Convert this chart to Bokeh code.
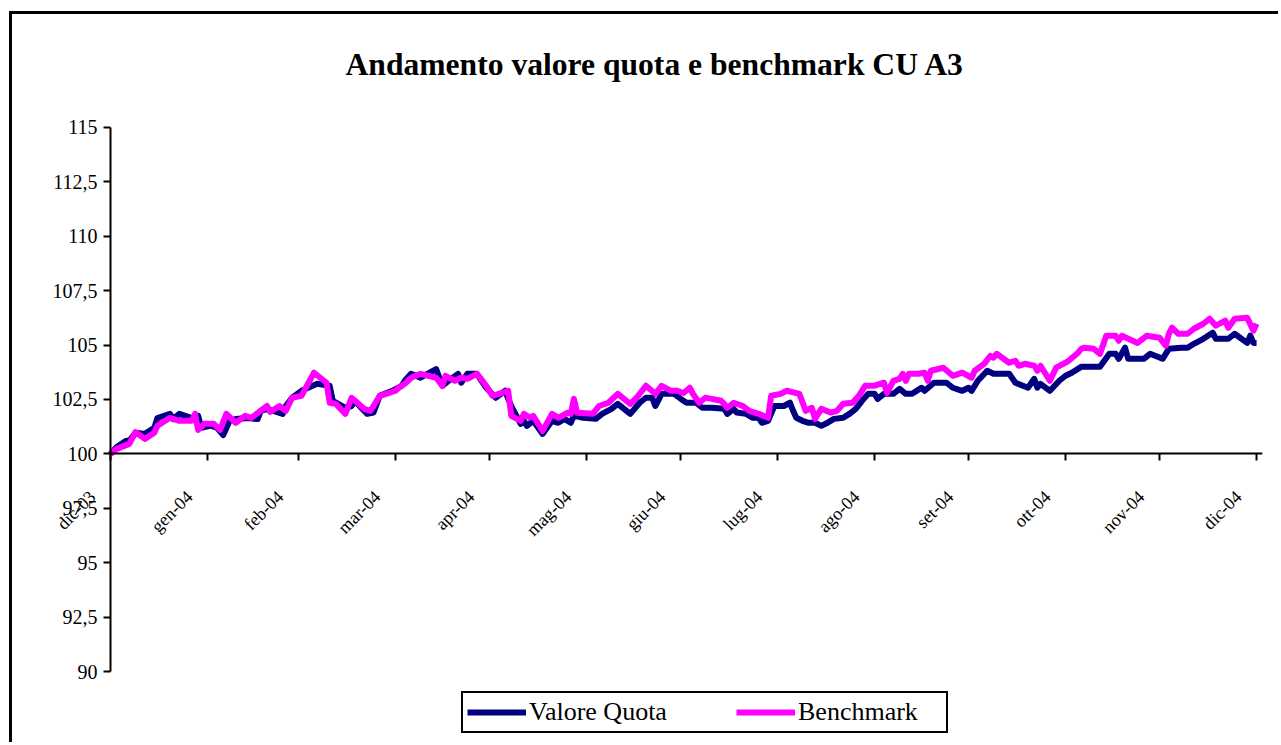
import math
import pandas as pd
from bokeh.plotting import figure
from bokeh.models import (Range1d, FixedTicker, Legend, LegendItem, ColumnDataSource,
                          LabelSet, Title)
from bokeh.embed import file_html
from bokeh.resources import INLINE
from bokeh.core.properties import value

# ---------------- data ----------------
START = "2003-12-31"

vq_days = [0, 2, 5, 6, 8, 11, 14, 15, 19, 20, 22, 26, 28, 29, 32, 34, 36, 38, 40, 44,
           47, 48, 50, 52, 55, 56, 58, 61, 66, 70, 71, 75, 77, 78, 82, 84, 86, 90, 93, 94,
           96, 99, 104, 106, 108, 111, 112, 114, 117, 120, 123, 126, 128, 131, 132, 133, 135, 138, 141, 143,
           145, 147, 148, 151, 155, 157, 160, 162, 166, 169, 171, 173, 174, 176, 180, 183, 184, 187, 189, 192,
           196, 197, 199, 200, 203, 205, 207, 208, 210, 212, 215, 217, 218, 219, 221, 223, 225, 227, 229, 231,
           234, 236, 238, 240, 242, 244, 245, 247, 250, 252, 254, 256, 259, 260, 263, 267, 269, 272, 274, 275,
           277, 280, 282, 287, 289, 293, 295, 296, 297, 300, 303, 305, 307, 310, 316, 319, 321, 322, 324, 325,
           330, 332, 336, 338, 342, 344, 346, 349, 352, 353, 357, 359, 363, 364, 365, 366]
vq_vals = [100.0, 100.32, 100.6, 100.6, 100.97, 100.92, 101.2, 101.65, 101.84, 101.6, 101.84, 101.65, 101.75, 101.2, 101.3, 101.2, 100.87, 101.5, 101.6, 101.65,
           101.6, 101.98, 102.07, 101.98, 101.84, 102.2, 102.58, 102.9, 103.22, 103.13, 102.44, 102.12, 102.2, 102.44, 101.84, 101.9, 102.67, 102.9, 103.13, 103.36,
           103.68, 103.5, 103.9, 103.13, 103.36, 103.68, 103.27, 103.68, 103.68, 103.04, 102.58, 102.9, 102.2, 101.38, 101.52, 101.29, 101.52, 100.92, 101.52, 101.43,
           101.61, 101.43, 101.75, 101.66, 101.61, 101.84, 102.07, 102.3, 101.84, 102.35, 102.58, 102.58, 102.2, 102.76, 102.76, 102.44, 102.35, 102.35, 102.12, 102.12,
           102.07, 101.84, 102.07, 101.9, 101.84, 101.66, 101.66, 101.43, 101.52, 102.2, 102.2, 102.35, 101.98, 101.66, 101.52, 101.43, 101.43, 101.29, 101.43, 101.61,
           101.66, 101.84, 102.07, 102.44, 102.76, 102.76, 102.53, 102.76, 102.76, 102.99, 102.76, 102.76, 103.04, 102.9, 103.27, 103.27, 103.04, 102.9, 103.04, 102.9,
           103.36, 103.82, 103.68, 103.68, 103.27, 103.04, 103.45, 103.04, 103.22, 102.9, 103.36, 103.59, 103.73, 104.0, 104.0, 104.6, 104.6, 104.37, 104.88, 104.37,
           104.37, 104.6, 104.37, 104.83, 104.88, 104.88, 105.06, 105.29, 105.57, 105.29, 105.29, 105.52, 105.1, 105.43, 105.1, 105.1]

bm_days = [0, 2, 6, 8, 11, 14, 15, 19, 22, 26, 27, 28, 30, 33, 35, 37, 40, 43, 45, 50,
           51, 54, 56, 58, 61, 65, 69, 70, 72, 75, 77, 81, 83, 84, 86, 89, 91, 92, 94, 96,
           99, 104, 106, 107, 110, 112, 114, 117, 118, 120, 122, 124, 127, 128, 131, 132, 134, 135, 138, 141,
           143, 146, 147, 148, 149, 154, 156, 159, 162, 166, 168, 171, 174, 176, 179, 181, 183, 185, 186, 188,
           190, 192, 195, 196, 197, 199, 202, 204, 207, 210, 211, 214, 216, 220, 222, 224, 225, 227, 230, 232,
           234, 237, 239, 241, 244, 245, 247, 248, 250, 252, 253, 254, 255, 258, 260, 261, 262, 266, 269, 272,
           275, 276, 279, 281, 282, 283, 287, 289, 290, 292, 295, 296, 297, 300, 302, 305, 306, 309, 310, 311,
           314, 316, 318, 321, 322, 323, 328, 331, 335, 337, 338, 339, 341, 344, 346, 349, 351, 353, 356, 357,
           359, 363, 365, 366]
bm_vals = [100.0, 100.23, 100.46, 101.0, 100.69, 100.97, 101.29, 101.66, 101.52, 101.52, 101.84, 101.1, 101.38, 101.38, 101.1, 101.84, 101.43, 101.75, 101.66, 102.2,
           101.93, 102.2, 101.98, 102.58, 102.67, 103.73, 103.27, 102.35, 102.3, 101.84, 102.58, 102.07, 101.98, 102.2, 102.67, 102.8, 102.9, 103.04, 103.22, 103.5,
           103.68, 103.5, 103.13, 103.59, 103.36, 103.5, 103.45, 103.68, 103.5, 103.13, 102.67, 102.76, 102.9, 101.75, 101.52, 101.84, 101.66, 101.75, 101.06, 101.84,
           101.66, 101.89, 101.84, 102.53, 101.89, 101.84, 102.2, 102.35, 102.76, 102.3, 102.58, 103.13, 102.76, 103.13, 102.9, 102.9, 102.8, 103.04, 102.76, 102.35,
           102.58, 102.53, 102.44, 102.3, 102.12, 102.35, 102.2, 101.98, 101.84, 101.66, 102.67, 102.76, 102.9, 102.76, 101.98, 102.12, 101.61, 102.07, 101.9, 101.98,
           102.3, 102.35, 102.67, 103.13, 103.13, 103.18, 103.27, 102.8, 103.36, 103.45, 103.68, 103.36, 103.68, 103.68, 103.73, 103.36, 103.82, 103.96, 103.59, 103.73,
           103.5, 103.82, 104.14, 104.51, 104.42, 104.6, 104.19, 104.28, 104.05, 104.14, 104.05, 103.82, 104.05, 103.36, 103.96, 104.19, 104.28, 104.65, 104.83, 104.88,
           104.83, 104.6, 105.43, 105.43, 105.2, 105.43, 105.1, 105.43, 105.34, 104.97, 105.52, 105.8, 105.52, 105.52, 105.75, 105.98, 106.21, 105.89, 106.12, 105.8,
           106.21, 106.26, 105.66, 105.98]

tick_dates = ["2003-12-31", "2004-01-31", "2004-02-29", "2004-03-31", "2004-04-30", "2004-05-31",
              "2004-06-30", "2004-07-31", "2004-08-31", "2004-09-30", "2004-10-31", "2004-11-30", "2004-12-31"]
tick_labels = ["dic-03", "gen-04", "feb-04", "mar-04", "apr-04", "mag-04", "giu-04",
               "lug-04", "ago-04", "set-04", "ott-04", "nov-04", "dic-04"]
y_ticks = [90, 92.5, 95, 97.5, 100, 102.5, 105, 107.5, 110, 112.5, 115]
y_labels = ["90", "92,5", "95", "97,5", "100", "102,5", "105", "107,5", "110", "112,5", "115"]

TITLE = "Andamento valore quota e benchmark CU A3"
SERIES = ["Valore Quota", "Benchmark"]
COLORS = ["#000080", "#FF00FF"]

# ---------------- build ----------------
start = pd.Timestamp(START)
start_ms = start.value / 1e6
DAY_MS = 86400000.0
vq_x = start + pd.to_timedelta(vq_days, unit="D")
bm_x = start + pd.to_timedelta(bm_days, unit="D")
tick_ts = pd.to_datetime(tick_dates)
tick_ms = [t.value / 1e6 for t in tick_ts]

FONT = "Liberation Serif"
X_LEFT_DAYS = -24.9   # frame extends left of the y axis so that tick labels are not cut
X_RIGHT_DAYS = 367.9
Y_BOTTOM = 87.06      # frame extends below 90 to hold the legend
Y_TOP = 115.55        # a little room above 115 for its label

p = figure(width=1269, height=731, x_axis_type="datetime",
           x_range=Range1d(start_ms + X_LEFT_DAYS * DAY_MS, start_ms + X_RIGHT_DAYS * DAY_MS),
           y_range=Range1d(Y_BOTTOM, Y_TOP),
           output_backend="svg", toolbar_location=None,
           min_border_left=20, min_border_right=19, min_border_top=101, min_border_bottom=10)
p.styles = {"margin-left": "9px", "margin-top": "11px",
            "border-left": "3px solid black", "border-top": "3px solid black"}
p.outline_line_color = None
p.xgrid.visible = False
p.ygrid.visible = False
p.background_fill_color = "white"
p.border_fill_color = "white"

# titles: spacer closest to the frame, then the real title
p.add_layout(Title(text=" ", text_font_size="2px", standoff=24), "above")
p.add_layout(Title(text=TITLE, text_font=FONT, text_font_size="31.6px", text_font_style="bold",
                   text_color="black", align="left", offset=313, standoff=12), "above")

# y axis at the start date
ya = p.yaxis[0]
ya.fixed_location = start_ms
ya.bounds = (90, 115)
ya.ticker = FixedTicker(ticks=y_ticks)
ya.major_label_overrides = {t: "" for t in y_ticks}
ya.major_label_text_font_size = "1px"
ya.major_label_standoff = 0
ya.major_tick_out = 7
ya.major_tick_in = 0
ya.minor_tick_out = 0
ya.minor_tick_in = 0
ya.axis_line_width = 2
ya.major_tick_line_width = 2

# x axis crossing at 100
xa = p.xaxis[0]
xa.fixed_location = 100
xa.bounds = (start_ms, start_ms + X_RIGHT_DAYS * DAY_MS)
xa.ticker = FixedTicker(ticks=tick_ms)
xa.major_label_overrides = {t: "" for t in tick_ms}
xa.major_label_text_font_size = "1px"
xa.major_label_standoff = 0
xa.major_tick_out = 7
xa.major_tick_in = 0
xa.minor_tick_out = 0
xa.minor_tick_in = 0
xa.axis_line_width = 2
xa.major_tick_line_width = 2

ylab_src = ColumnDataSource(dict(x=[start] * len(y_ticks), y=y_ticks, t=y_labels))
p.add_layout(LabelSet(x="x", y="y", text="t", source=ylab_src, x_offset=-13, y_offset=0,
                      text_align="right", text_baseline="middle",
                      text_font=value(FONT), text_font_size="20px", text_color="black"))

xlab_src = ColumnDataSource(dict(x=tick_ts, y=[100] * len(tick_ts), t=tick_labels))
p.add_layout(LabelSet(x="x", y="y", text="t", source=xlab_src, angle=math.pi / 4,
                      x_offset=-18, y_offset=-40, text_align="right", text_baseline="middle",
                      text_font=value(FONT), text_font_size="18px", text_color="black"))

r1 = p.line(vq_x, vq_vals, line_color=COLORS[0], line_width=6, line_join="round")
r2 = p.line(bm_x, bm_vals, line_color=COLORS[1], line_width=6, line_join="round")

legend = Legend(items=[LegendItem(label=SERIES[0], renderers=[r1]),
                       LegendItem(label=SERIES[1], renderers=[r2])],
                orientation="horizontal", location=(429, 2), margin=0,
                label_text_font=FONT, label_text_font_size="26px", label_text_color="black",
                label_width=144, glyph_width=59, glyph_height=26, label_standoff=3, spacing=63,
                padding=4, border_line_color="black", border_line_width=2, border_line_alpha=1.0,
                background_fill_color="white", background_fill_alpha=1.0)
p.add_layout(legend)

open("out.html", "w").write(file_html(p, INLINE))
